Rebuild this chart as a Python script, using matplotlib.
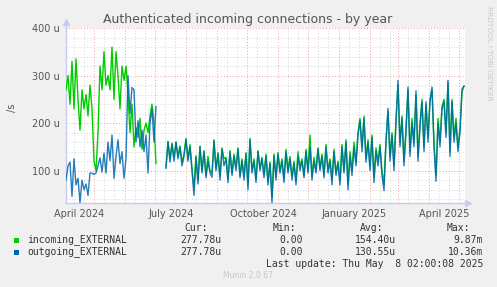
import numpy as np
import matplotlib
matplotlib.use('Agg')
import matplotlib.pyplot as plt
import matplotlib.dates as mdates
from matplotlib.patches import Rectangle

nan = float('nan')

# ---------------- data ----------------
start_date = '2024-04-03'
step_days = 2

incoming = [
    270, 300, 240, 330, 230, 335, 250, 185, 270, 230, 260, 215, 280, 230, 120, 100,
    180, 320, 270, 350, 280, 300, 270, 360, 250, 350, 300, 230, 320, 290, 320,
    260, 180, 240, 150, 190, 170, 210, 145, 185, 200, 180, 215, 240, 200, 115,
    nan, nan, nan, nan,
    108, 162, 125, 158, 128, 160, 130, 152, 118, 135, 168, 125, 155, 105, 62, 132,
    80, 152, 100, 142, 90, 130, 100, 95, 165, 105, 138, 88, 148, 125, 128, 82,
    142, 95, 135, 108, 148, 90, 125, 88, 138, 70, 168, 100, 125, 82, 142, 105,
    128, 92, 135, 78, 118, 45, 135, 88, 138, 100, 125, 82, 145, 100, 130, 88,
    120, 78, 140, 108, 125, 90, 145, 100, 175, 88, 128, 100, 148, 105, 135, 92,
    155, 100, 125, 80, 145, 95, 120,
    78, 155, 100, 165, 72, 140, 100, 160, 118, 180, 210, 150, 215, 125, 165, 110,
    175, 85, 148, 120, 155, 100, 70, 165, 225, 130, 180, 110, 210, 280, 160, 215,
    120, 190, 270, 140, 210, 160, 260, 130, 200, 250, 150, 240, 170, 250, 270, 160,
    90, 210, 160, 235, 250, 180, 285, 140, 250, 170, 210, 150, 190, 265, 278,
]

outgoing = [
    80, 110, 118, 46, 125, 70, 84, 33, 80, 60, 72, 48, 95, 95, 92, 95,
    110, 127, 97, 137, 95, 160, 121, 175, 84, 130, 165, 115, 140, 84, 125,
    300, 220, 275, 270, 160, 205, 150, 185, 140, 175, 95, 200, 230, 160, 235,
    nan, nan, nan, nan,
    105, 160, 118, 155, 120, 160, 125, 150, 110, 130, 165, 120, 150, 100, 48, 128,
    72, 150, 95, 140, 85, 120, 95, 86, 163, 100, 135, 80, 145, 110, 125, 75,
    140, 90, 130, 100, 145, 85, 120, 80, 135, 60, 165, 95, 120, 75, 140, 100,
    125, 85, 130, 70, 115, 32, 130, 80, 135, 95, 120, 75, 140, 95, 125, 80,
    115, 70, 130, 100, 120, 85, 140, 95, 150, 80, 120, 95, 145, 100, 130, 85,
    150, 95, 120, 70, 140, 90, 115,
    70, 150, 95, 160, 60, 130, 90, 150, 110, 175, 205, 140, 210, 118, 160, 100,
    170, 75, 140, 110, 150, 90, 58, 160, 231, 120, 175, 100, 200, 290, 150, 210,
    110, 180, 276, 130, 200, 150, 268, 120, 190, 245, 140, 245, 160, 245, 276, 150,
    78, 200, 150, 230, 245, 170, 290, 130, 245, 160, 200, 140, 180, 272, 278,
]

x_tick_labels = ['April 2024', 'July 2024', 'October 2024', 'January 2025', 'April 2025']
x_tick_dates = ['2024-04-16', '2024-07-17', '2024-10-17', '2025-01-16', '2025-04-16']
y_ticks = [100, 200, 300, 400]
y_tick_labels = ['100 u', '200 u', '300 u', '400 u']

series_names = ['incoming_EXTERNAL', 'outgoing_EXTERNAL']
series_colors = ['#00CC00', '#0066B3']
cur_vals = ['277.78u', '277.78u']
min_vals = ['0.00', '0.00']
avg_vals = ['154.40u', '130.55u']
max_vals = ['9.87m', '10.36m']

title = 'Authenticated incoming connections - by year'
last_update = 'Last update: Thu May  8 02:00:08 2025'

# ---------------- figure ----------------
W, H = 497, 287
fig = plt.figure(figsize=(W / 100, H / 100), dpi=100, facecolor='#F0F0F0')

def fx(x):
    return x / W

def fy(y):
    return 1 - y / H

ax = fig.add_axes([fx(66), fy(203), 399 / W, 175 / H])
ax.set_facecolor('white')

n = len(incoming)
d0 = np.datetime64(start_date)
dates = mdates.date2num(d0 + np.arange(n) * np.timedelta64(step_days, 'D'))

xmin = mdates.date2num(d0)
xmax = mdates.date2num(d0 + np.timedelta64(399, 'D'))
ax.set_xlim(xmin, xmax)
ax.set_ylim(32, 400)

# grid
gray = '#D4D4D4'
red = '#F0A0A0'
dot = (0, (1, 2))
for v in range(40, 400, 20):
    if v % 100:
        ax.axhline(v, color=gray, lw=0.7, ls=dot, zorder=1)
for v in y_ticks:
    ax.axhline(v, color=red, lw=0.7, ls=dot, zorder=1, clip_on=False)

months = []
y_, m_ = 2024, 4
while (y_, m_) <= (2025, 5):
    months.append((y_, m_))
    m_ += 1
    if m_ > 12:
        m_ = 1
        y_ += 1
for (yy, mm) in months:
    for day in (11, 21):
        t = mdates.date2num(np.datetime64(f'{yy:04d}-{mm:02d}-{day:02d}'))
        if xmin < t < xmax:
            ax.axvline(t, color=gray, lw=0.7, ls=dot, zorder=1)
    t = mdates.date2num(np.datetime64(f'{yy:04d}-{mm:02d}-01'))
    if xmin < t < xmax:
        ax.axvline(t, color=red, lw=0.7, ls=dot, zorder=1)

ax.plot(dates, incoming, color=series_colors[0], lw=1.0, zorder=3)
ax.plot(dates, outgoing, color=series_colors[1], lw=1.0, zorder=4, alpha=0.85)

# axes styling
for s in ('top', 'right'):
    ax.spines[s].set_visible(False)
axcol = '#C8CCF0'
for s in ('left', 'bottom'):
    ax.spines[s].set_color(axcol)
    ax.spines[s].set_linewidth(1.0)
ax.plot([0], [1.035], marker='^', color=axcol, ms=4, transform=ax.transAxes, clip_on=False)
ax.plot([1.008], [0], marker='>', color=axcol, ms=4, transform=ax.transAxes, clip_on=False)
ax.plot([0, 0], [1.0, 1.03], color=axcol, lw=1, transform=ax.transAxes, clip_on=False)
ax.plot([1.0, 1.006], [0, 0], color=axcol, lw=1, transform=ax.transAxes, clip_on=False)

ax.set_yticks(y_ticks)
ax.set_yticklabels(y_tick_labels)
ax.set_xticks(mdates.date2num(np.array(x_tick_dates, dtype='datetime64[D]')))
ax.set_xticklabels(x_tick_labels)
ax.tick_params(axis='both', length=0, labelsize=7, labelcolor='#555555')
ax.tick_params(axis='y', pad=4.5)
ax.tick_params(axis='x', pad=4)

# texts
fig.text(fx(248), fy(19), title, ha='center', va='center', fontsize=9.0, color='#555555')
fig.text(fx(12), fy(108), '/s', rotation=90, ha='center', va='center', fontsize=7, color='#555555')
fig.text(fx(489), fy(53), 'RRDTOOL / TOBI OETIKER', rotation=270, ha='center', va='center',
         fontsize=5.3, color='#C8C8C8')

mono = 'DejaVu Sans Mono'
fs = 7
tc = '#333333'
yh = 228
for txt, xr in zip(['Cur:', 'Min:', 'Avg:', 'Max:'], [208, 296, 383, 470]):
    fig.text(fx(xr), fy(yh), txt, ha='right', va='center', family=mono, fontsize=fs, color=tc)
for i, name in enumerate(series_names):
    yr = 240 + 12 * i
    fig.patches.append(Rectangle((fx(14), fy(yr + 2.5)), 5 / W, 5 / H, transform=fig.transFigure,
                                 facecolor=series_colors[i], edgecolor='none', figure=fig))
    fig.text(fx(27), fy(yr), name, ha='left', va='center', family=mono, fontsize=fs, color=tc)
    for val, xr in zip([cur_vals[i], min_vals[i], avg_vals[i], max_vals[i]], [221, 303, 396, 483]):
        fig.text(fx(xr), fy(yr), val, ha='right', va='center', family=mono, fontsize=fs, color=tc)
fig.text(fx(483), fy(264), last_update, ha='right', va='center', family=mono, fontsize=fs, color=tc)
fig.text(fx(248), fy(276), 'Munin 2.0.67', ha='center', va='center', fontsize=5.5, color='#C8C8C8')

fig.savefig('out.png', dpi=100, facecolor=fig.get_facecolor())
